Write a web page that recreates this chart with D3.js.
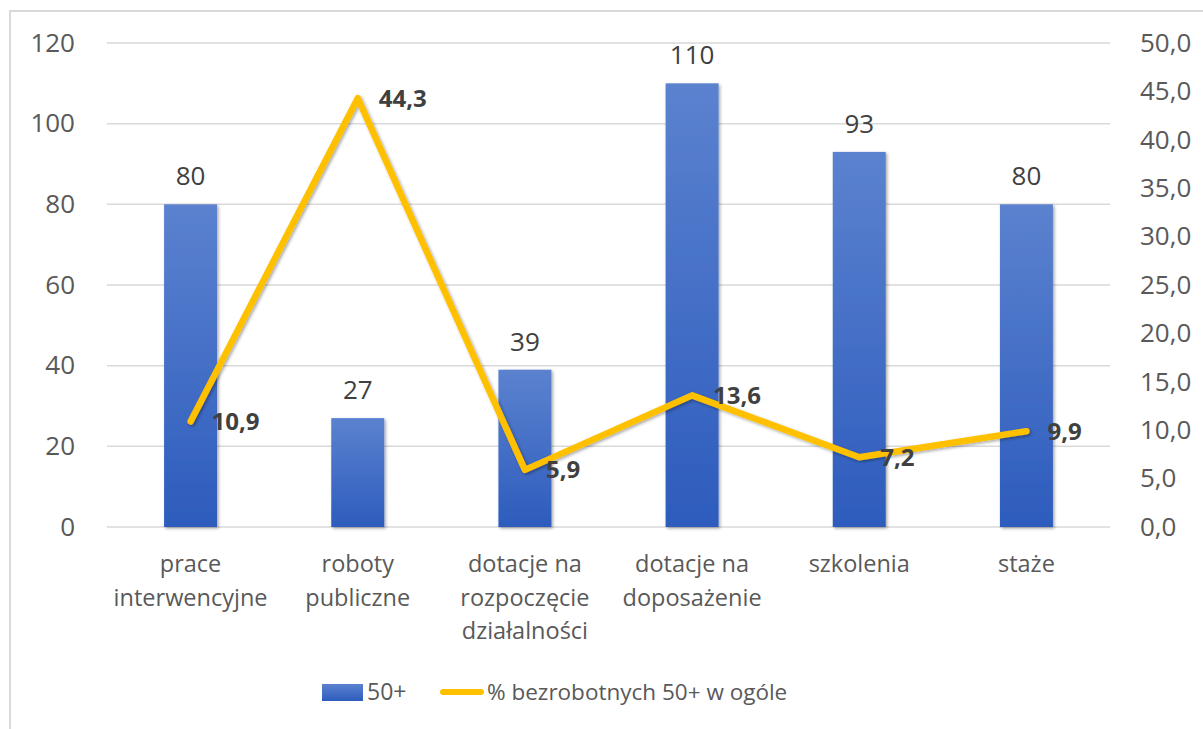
<!DOCTYPE html>
<html>
<head>
<meta charset="utf-8">
<script src="https://cdn.jsdelivr.net/npm/d3@7"></script>
<style>
  html, body { margin: 0; padding: 0; background: #fff; }
  svg { display: block; font-family: "Open Sans", sans-serif; }
</style>
</head>
<body>
<svg id="chart" width="1203" height="729"></svg>
<script>
const categories = [
  ["prace", "interwencyjne"],
  ["roboty", "publiczne"],
  ["dotacje na", "rozpoczęcie", "działalności"],
  ["dotacje na", "doposażenie"],
  ["szkolenia"],
  ["staże"]
];
const barValues = [80, 27, 39, 110, 93, 80];
const lineValues = [10.9, 44.3, 5.9, 13.6, 7.2, 9.9];
const leftTicks = [0, 20, 40, 60, 80, 100, 120];
const rightTicks = [0, 5, 10, 15, 20, 25, 30, 35, 40, 45, 50];
const barSeriesName = "50+";
const lineSeriesName = "% bezrobotnych 50+ w ogóle";

const svg = d3.select("#chart");
const W = 1203, H = 729;
const plot = { left: 107, right: 1110, top: 43, bottom: 527 };

// frame border
svg.append("path")
  .attr("d", `M10,${H} L10,11 L${W},11`)
  .attr("fill", "none").attr("stroke", "#d9d9d9").attr("stroke-width", 2);

const defs = svg.append("defs");
const grad = defs.append("linearGradient").attr("id", "barGrad")
  .attr("x1", 0).attr("y1", 0).attr("x2", 0).attr("y2", 1);
grad.append("stop").attr("offset", "0%").attr("stop-color", "#5b82cf");
grad.append("stop").attr("offset", "100%").attr("stop-color", "#2d5cbd");
const shadow = defs.append("filter").attr("id", "shadow")
  .attr("x", "-20%").attr("y", "-20%").attr("width", "140%").attr("height", "140%");
shadow.append("feDropShadow").attr("dx", 1.5).attr("dy", 1.5)
  .attr("stdDeviation", 1.5).attr("flood-color", "#000").attr("flood-opacity", 0.35);
const lgrad = defs.append("linearGradient").attr("id", "legGrad")
  .attr("x1", 0).attr("y1", 0).attr("x2", 0).attr("y2", 1);
lgrad.append("stop").attr("offset", "0%").attr("stop-color", "#5b82cf");
lgrad.append("stop").attr("offset", "100%").attr("stop-color", "#2d5cbd");

const x = d3.scaleBand().domain(d3.range(categories.length))
  .range([plot.left, plot.right]).paddingInner(0.683).paddingOuter(0.3415);
const yL = d3.scaleLinear().domain([0, 120]).range([plot.bottom, plot.top]);
const yR = d3.scaleLinear().domain([0, 50]).range([plot.bottom, plot.top]);

// gridlines
svg.append("g").selectAll("line").data(leftTicks).join("line")
  .attr("x1", plot.left).attr("x2", plot.right)
  .attr("y1", d => yL(d)).attr("y2", d => yL(d))
  .attr("stroke", "#d9d9d9").attr("stroke-width", 1.5);

// left axis labels
const axL = svg.append("g").attr("transform", `translate(${plot.left},0)`)
  .call(d3.axisLeft(yL).tickValues(leftTicks).tickSize(0).tickPadding(32).tickFormat(d3.format("d")));
axL.select(".domain").remove();
axL.selectAll("text").attr("font-size", 26).attr("fill", "#595959")
  .attr("font-family", "'Open Sans', sans-serif");

// right axis labels (left aligned)
const axR = svg.append("g").attr("transform", `translate(${plot.right},0)`)
  .call(d3.axisRight(yR).tickValues(rightTicks).tickSize(0).tickPadding(30)
    .tickFormat(d => d3.format(".1f")(d).replace(".", ",")));
axR.select(".domain").remove();
axR.selectAll("text").attr("font-size", 26).attr("fill", "#595959")
  .attr("font-family", "'Open Sans', sans-serif");

// bars
svg.append("g").selectAll("rect").data(barValues).join("rect")
  .attr("x", (d, i) => x(i)).attr("width", x.bandwidth())
  .attr("y", d => yL(d)).attr("height", d => yL(0) - yL(d))
  .attr("fill", "url(#barGrad)").attr("filter", "url(#shadow)");

// bar labels
svg.append("g").selectAll("text").data(barValues).join("text")
  .attr("x", (d, i) => x(i) + x.bandwidth() / 2)
  .attr("y", d => yL(d) - 19)
  .attr("text-anchor", "middle").attr("font-size", 26).attr("fill", "#404040")
  .text(d => d);

// line
const cx = i => x(i) + x.bandwidth() / 2;
const line = d3.line().x((d, i) => cx(i)).y(d => yR(d));
svg.append("path").datum(lineValues)
  .attr("d", line).attr("fill", "none").attr("stroke", "#ffc000")
  .attr("stroke-width", 6.5).attr("stroke-linejoin", "round").attr("stroke-linecap", "round")
  .attr("filter", "url(#shadow)");

// line labels
svg.append("g").selectAll("text").data(lineValues).join("text")
  .attr("x", (d, i) => cx(i) + 21)
  .attr("y", d => yR(d))
  .attr("dy", "0.35em")
  .attr("font-size", 24).attr("font-weight", "bold").attr("fill", "#404040")
  .text(d => d3.format(".1f")(d).replace(".", ","));

// category labels
const cat = svg.append("g").selectAll("text").data(categories).join("text")
  .attr("x", (d, i) => cx(i)).attr("y", 572)
  .attr("text-anchor", "middle").attr("font-size", 23.5).attr("fill", "#595959");
cat.selectAll("tspan").data(d => d).join("tspan")
  .attr("x", function() { return d3.select(this.parentNode).attr("x"); })
  .attr("dy", (d, j) => j === 0 ? 0 : 33.5)
  .text(d => d);

// legend
const leg = svg.append("g");
leg.append("rect").attr("x", 322).attr("y", 684).attr("width", 41).attr("height", 17)
  .attr("fill", "url(#legGrad)");
leg.append("text").attr("x", 367).attr("y", 692).attr("dy", "0.35em")
  .attr("font-size", 23).attr("fill", "#595959").text(barSeriesName);
leg.append("line").attr("x1", 443).attr("x2", 481).attr("y1", 692).attr("y2", 692)
  .attr("stroke", "#ffc000").attr("stroke-width", 6).attr("stroke-linecap", "round");
leg.append("text").attr("x", 487).attr("y", 692).attr("dy", "0.35em")
  .attr("font-size", 22.5).attr("fill", "#595959").text(lineSeriesName);
</script>
</body>
</html>
